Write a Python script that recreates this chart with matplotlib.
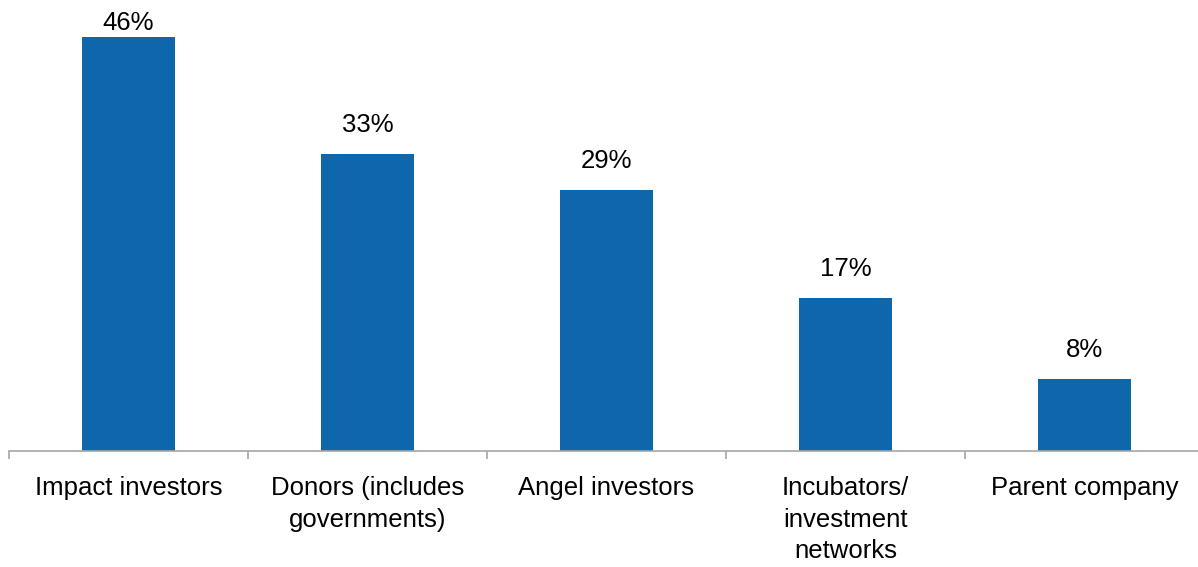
import matplotlib.pyplot as plt
import numpy as np

# Data
categories = ['Impact investors', 'Donors (includes\ngovernments)', 'Angel investors',
              'Incubators/\ninvestment\nnetworks', 'Parent company']
values = [46, 33, 29, 17, 8]

plt.rcParams['font.family'] = ['Liberation Sans', 'DejaVu Sans']

fig = plt.figure(figsize=(11.98, 5.67), dpi=100)
ax = fig.add_axes([9 / 1198, 116 / 567, 1195 / 1198, 452 / 567])

x = np.arange(len(categories))
bars = ax.bar(x, values, width=0.393, color='#0E66AB')

ax.set_xlim(-0.5, len(categories) - 0.5)
ax.set_ylim(0, 50.2)

# Value labels above bars (kept inside the figure at the top)
for xi, v in zip(x, values):
    ax.text(xi, min(v + 2.4, 46.8), f'{v}%', ha='center', va='baseline',
            fontsize=18.5, color='black')

# Category labels, ticks at the boundaries
ax.set_xticks(x)
ax.set_xticklabels(categories, fontsize=18.5, linespacing=1.4)
ax.tick_params(axis='x', which='major', length=0, pad=18)
ax.set_xticks(np.arange(-0.5, len(categories), 1), minor=True)
ax.tick_params(axis='x', which='minor', length=6, width=1.2, color='#A6A6A6', direction='out')

ax.set_yticks([])
for side in ['top', 'right', 'left']:
    ax.spines[side].set_visible(False)
ax.spines['bottom'].set_color('#A6A6A6')
ax.spines['bottom'].set_linewidth(1.2)

plt.savefig('out.png', dpi=100)
